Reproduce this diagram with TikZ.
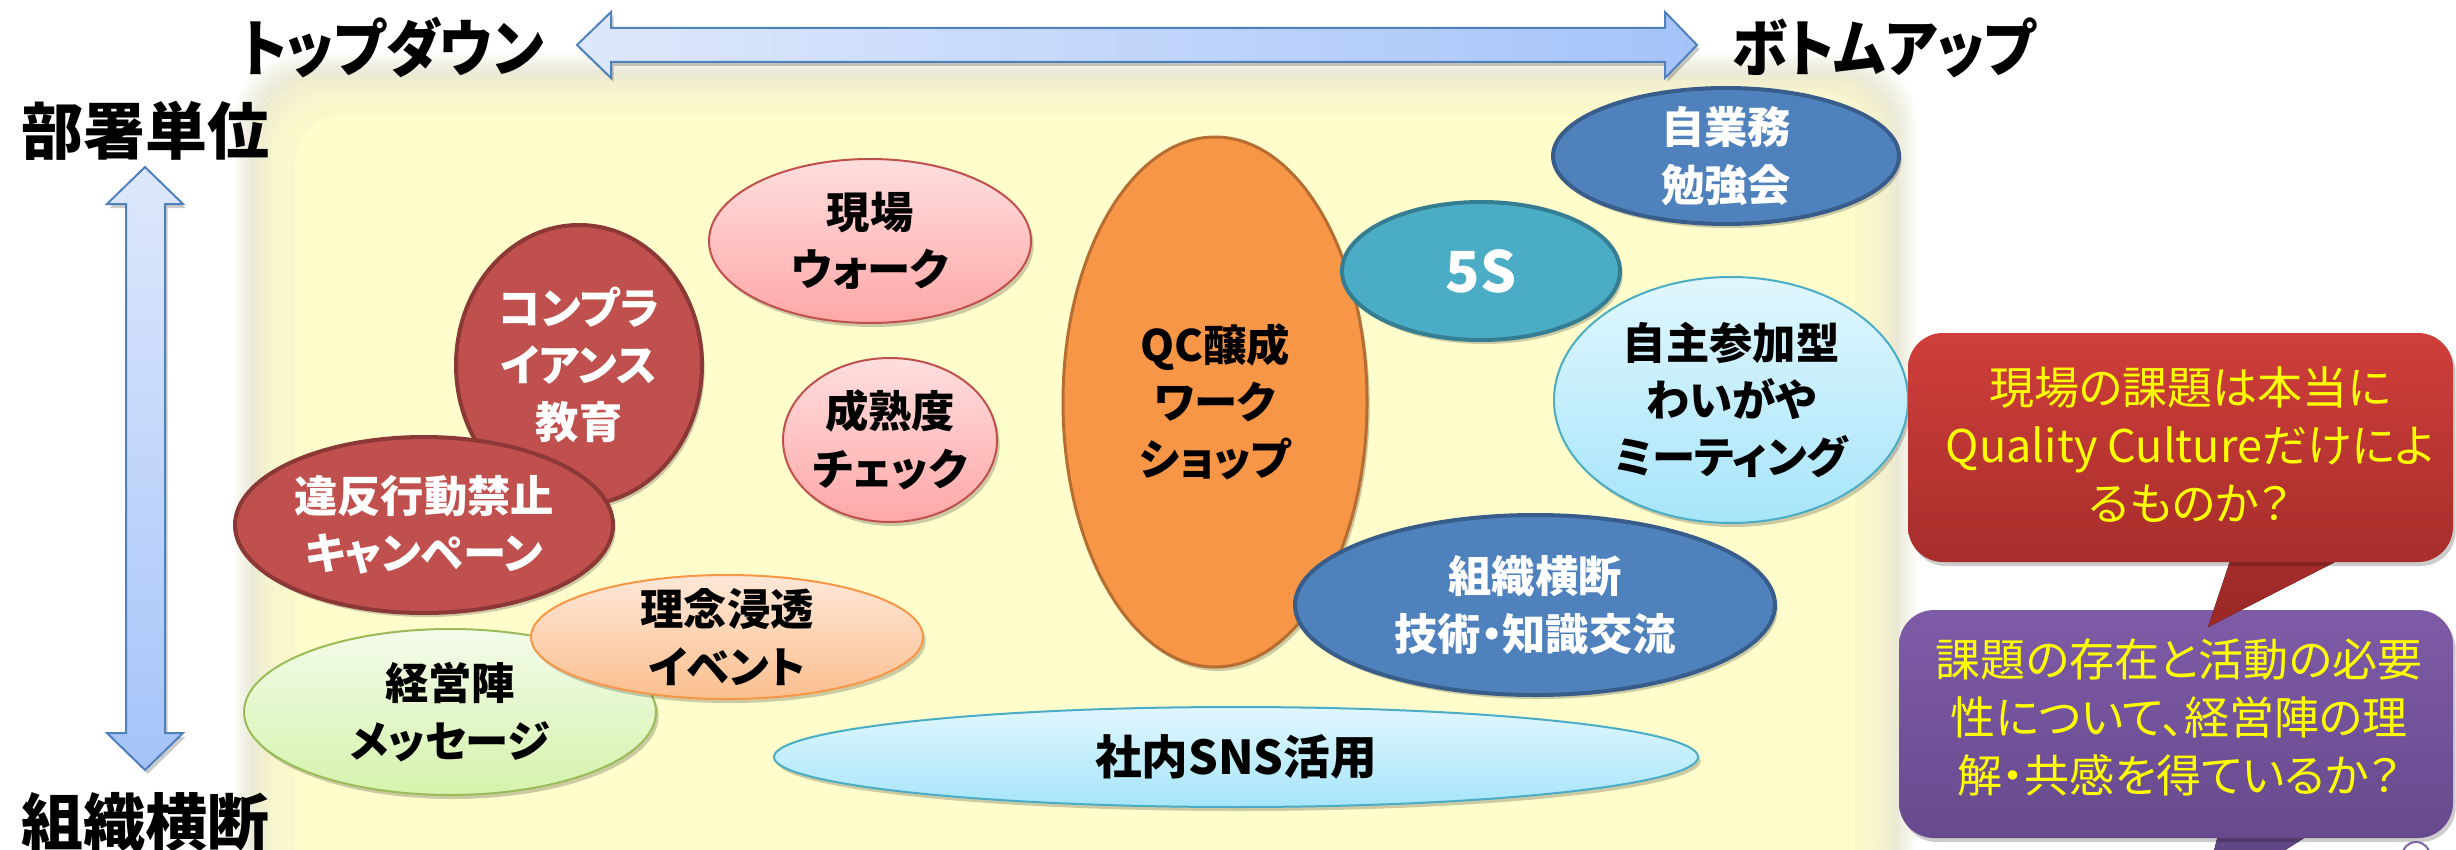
\documentclass[tikz,border=0pt]{standalone}
\usepackage{fontspec}
\usetikzlibrary{shapes.geometric,shadows}
\newfontfamily\jpfam{Noto Sans CJK JP}[RawFeature=+palt, BoldFont={Noto Sans CJK JP Black}]
\newfontfamily\jpnar{Noto Sans CJK JP}[RawFeature=+palt, BoldFont={Noto Sans CJK JP Black}, FakeStretch=0.9]
\newcommand\hdrfont{\jpfam\bfseries\fontsize{18.6pt}{20pt}\selectfont}
\newcommand\hdrnfont{\jpnar\bfseries\fontsize{18.6pt}{20pt}\selectfont}
\newcommand\labfont{\jpfam\bfseries\fontsize{13pt}{17.2pt}\selectfont}
\newcommand\callfont{\jpfam\fontsize{13.5pt}{17.4pt}\selectfont}
\definecolor{bgY}{HTML}{FFFDCB}
\definecolor{bgEdge}{HTML}{CFCDA2}
\definecolor{arrD}{HTML}{4F81BD}
\definecolor{arrL}{HTML}{DEE8FC}
\definecolor{arrR}{HTML}{A5C3F9}
\definecolor{redF}{HTML}{C0504D}
\definecolor{redB}{HTML}{8C3836}
\definecolor{pinkT}{HTML}{FFDEDE}
\definecolor{pinkB}{HTML}{FFA7A7}
\definecolor{orF}{HTML}{F79646}
\definecolor{orB}{HTML}{B66D31}
\definecolor{tealF}{HTML}{4BACC6}
\definecolor{tealB}{HTML}{357D91}
\definecolor{blueF}{HTML}{4F81BD}
\definecolor{blueB}{HTML}{385D8A}
\definecolor{ltbT}{HTML}{E1F7FE}
\definecolor{ltbB}{HTML}{A6E5FA}
\definecolor{peachT}{HTML}{FDE7D8}
\definecolor{peachB}{HTML}{FBBF8E}
\definecolor{grnT}{HTML}{F3FBEA}
\definecolor{grnB}{HTML}{D5F3AC}
\definecolor{grnD}{HTML}{9BBB59}
\definecolor{cRedT}{HTML}{CF3E3A}
\definecolor{cRedB}{HTML}{A72E2C}
\definecolor{cRedP}{HTML}{9A2826}
\definecolor{cPurT}{HTML}{7E5BA7}
\definecolor{cPurB}{HTML}{674A8D}
\definecolor{cPurD}{HTML}{8064A2}
\definecolor{callYel}{HTML}{FFFF00}
\begin{document}
\begin{tikzpicture}[x=0.3pt,y=-0.3pt,
  sz/.style 2 args={minimum width=#1*0.6pt, minimum height=#2*0.6pt},
  shad/.style={drop shadow={shadow xshift=0.8pt, shadow yshift=-1.2pt, fill=black, opacity=0.2}},
  ell/.style={ellipse, inner sep=0pt, shad},
  redE/.style={ell, fill=redF, draw=redB, line width=1.2pt},
  pinkE/.style={ell, top color=pinkT, bottom color=pinkB, draw=redF, line width=0.6pt},
  orE/.style={ell, fill=orF, draw=orB, line width=0.9pt},
  tealE/.style={ell, fill=tealF, draw=tealB, line width=1.2pt},
  blueE/.style={ell, fill=blueF, draw=blueB, line width=1.2pt},
  ltbE/.style={ell, top color=ltbT, bottom color=ltbB, draw=tealF, line width=0.6pt},
  peachE/.style={ell, top color=peachT, bottom color=peachB, draw=orF, line width=0.6pt},
  grnE/.style={ell, top color=grnT, bottom color=grnB, draw=grnD, line width=0.6pt},
  lab/.style={align=center, inner sep=0pt, font=\labfont, text=black},
  labw/.style={lab, text=white},
  hdr/.style={inner sep=0pt, font=\hdrfont, text=black},
  hdrn/.style={inner sep=0pt, font=\hdrnfont, text=black},
  callbox/.style={rectangle, rounded corners=10.5pt, inner sep=0pt, shad},
  calltxt/.style={align=center, inner sep=0pt, font=\callfont, text=callYel},
  blockarrow/.style={draw=arrD, line width=0.6pt, shad}
]
\useasboundingbox (0,0) rectangle (2456,849);
\clip (0,0) rectangle (2456,849);
% background panel with soft edge
\foreach \i in {0,...,7} {
  \fill[bgEdge, opacity=0.08, rounded corners=20pt] ({255-3*\i},{75-3*\i}) rectangle ({1895+3*\i},{900});
}
\foreach \i in {0,...,7} {
  \fill[bgY, opacity=0.22, rounded corners=18pt] ({255+5*\i},{75+5*\i}) rectangle ({1895-5*\i},{900});
}
\fill[bgY, rounded corners=14pt] (295,115) rectangle (1855,900);

% headers
\node[hdrn] (td) at (392,48) {トップダウン};
\node[hdrn] (bu) at (1884,48) {ボトムアップ};
\node[hdr] (dept) at (145,131) {部署単位};
\node[hdr] (cross) at (145,822) {組織横断};

% block arrows
\path[blockarrow, left color=arrL, right color=arrR]
  (577,45) -- (611,12) -- (611,28) -- (1665,28) -- (1665,12) -- (1697,45)
  -- (1665,78) -- (1665,62) -- (611,62) -- (611,78) -- cycle;
\path[blockarrow, top color=arrL, bottom color=arrR]
  (145,167) -- (183,204) -- (165,204) -- (165,733) -- (183,733) -- (145,770)
  -- (107,733) -- (126,733) -- (126,204) -- (107,204) -- cycle;

% ellipses
\node[redE, sz={123}{140}] (comp) at (579,365) {};
\node[labw] at (comp) {コンプラ\\イアンス\\教育};
\node[redE, sz={189}{88}] (ihan) at (424,525) {};
\node[labw] at (ihan) {違反行動禁止\\キャンペーン};
\node[pinkE, sz={161}{82}] (genba) at (870,241) {};
\node[lab] at (genba) {現場\\ウォーク};
\node[pinkE, sz={107}{82}] (seij) at (890,440) {};
\node[lab] at (seij) {成熟度\\チェック};
\node[orE, sz={152}{265}] (qc) at (1215,402) {};
\node[lab] at (qc) {QC醸成\\ワーク\\ショップ};
\node[tealE, sz={139}{69}] (s5) at (1481,271) {};
\node[labw, font=\jpfam\bfseries\fontsize{17pt}{20pt}\selectfont] at (s5) {5S};
\node[blueE, sz={173}{68}] (jigyo) at (1726,156) {};
\node[labw] at (jigyo) {自業務\\勉強会};
\node[ltbE, sz={177}{123}] (waig) at (1731,400) {};
\node[lab] at (waig) {自主参加型\\わいがや\\ミーティング};
\node[blueE, sz={240}{90}] (soshi) at (1535,605) {};
\node[labw] at (soshi) {組織横断\\技術・知識交流};
\node[ltbE, sz={462}{50}] (sns) at (1236,757) {};
\node[lab, font=\jpfam\bfseries\fontsize{14pt}{17pt}\selectfont] at (sns) {社内SNS活用};
\node[grnE, sz={206}{83}] (keiei) at (450,712) {};
\node[lab] at (keiei) {経営陣\\メッセージ};
\node[peachE, sz={196}{62}] (rinen) at (727,637) {};
\node[lab] at (rinen) {理念浸透\\イベント};

% callouts
\fill[top color=cPurB, bottom color=cPurB!90!black] (2227,800) -- (2363,800) -- (2200,905) -- cycle;
\node[callbox, top color=cPurT, bottom color=cPurB, minimum width=554*0.3pt, minimum height=228*0.3pt] (q2) at (2176,724) {};
\node[calltxt] at (2179,717) {課題の存在と活動の必要\\性について、経営陣の理\\解・共感を得ているか？};
\node[circle, draw=cPurD, fill=white, line width=0.6pt, minimum size=28*0.3pt, inner sep=0pt] (dot) at (2416,856) {};
\fill[top color=cRedB, bottom color=cRedP] (2237,540) -- (2378,540) -- (2208,627) -- cycle;
\node[callbox, top color=cRedT, bottom color=cRedB, minimum width=545*0.3pt, minimum height=229*0.3pt] (q1) at (2180.5,447.5) {};
\node[calltxt] at (2190,445) {現場の課題は本当に\\Quality Cultureだけによ\\るものか？};
\end{tikzpicture}
\end{document}
